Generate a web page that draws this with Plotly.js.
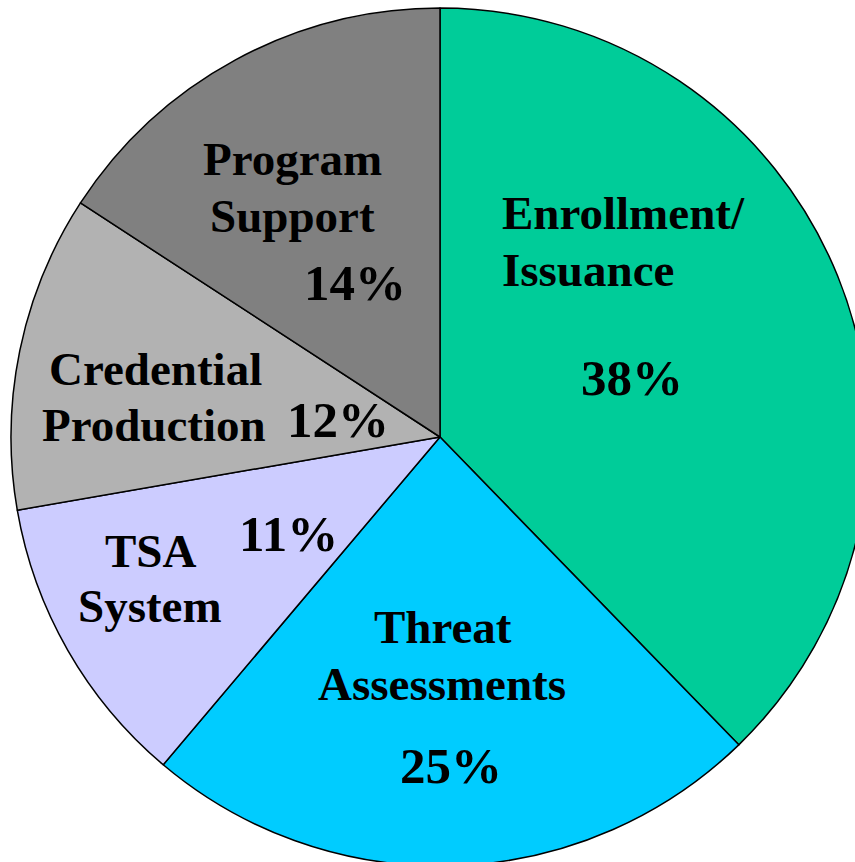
<!DOCTYPE html>
<html>
<head>
<meta charset="utf-8">
<script src="https://cdn.plot.ly/plotly-3.0.1.min.js"></script>
<style>
html, body { margin: 0; padding: 0; overflow: hidden; background: #fff; }
#chart { width: 880px; height: 874px; }
</style>
</head>
<body>
<div id="chart"></div>
<script>
// ---- data ----
var categories = ["Enrollment/Issuance", "Threat Assessments", "TSA System", "Credential Production", "Program Support"];
var values = [37.7, 23.4, 11.1, 11.9, 15.8];
var pctLabels = ["38%", "25%", "11%", "12%", "14%"];
var nameLines = [["Enrollment/", "Issuance"], ["Threat", "Assessments"], ["TSA", "System"], ["Credential", "Production"], ["Program", "Support"]];
var colors = ["#00CC99", "#00CCFF", "#CCCCFF", "#B2B2B2", "#808080"];

// ---- layout (pixel placement of labels) ----
var W = 880, H = 874;
var nameFont = 47, pctFont = 51;
// [ [line1 x, y, anchor], [line2 x, y, anchor], [pct x, y] ]
var labelPos = [
  [[501, 213, "left"], [501, 270, "left"], [632, 378]],
  [[442.5, 627, "center"], [441.5, 684, "center"], [451, 766]],
  [[150, 551, "center"], [150, 606, "center"], [288.5, 534]],
  [[155, 369, "center"], [154, 425, "center"], [338, 420]],
  [[292, 159, "center"], [292.5, 216, "center"], [354.5, 283]]
];

var fam = '"Liberation Serif", "Times New Roman", Times, serif';
var annotations = [];
function ann(text, x, y, anchor, size) {
  annotations.push({
    text: text, xref: "paper", yref: "paper",
    x: x / W, y: 1 - y / H, xanchor: anchor, yanchor: "middle",
    showarrow: false, borderpad: 0,
    font: { family: fam, size: size, color: "#000", weight: "bold" }
  });
}
for (var i = 0; i < categories.length; i++) {
  var p = labelPos[i];
  ann(nameLines[i][0], p[0][0], p[0][1], p[0][2], nameFont);
  ann(nameLines[i][1], p[1][0], p[1][1], p[1][2], nameFont);
  ann(pctLabels[i], p[2][0], p[2][1], "center", pctFont);
}

var trace = {
  type: "pie",
  labels: categories,
  values: values,
  sort: false,
  direction: "clockwise",
  rotation: 0,
  marker: { colors: colors, line: { color: "#000", width: 1.5 } },
  textinfo: "none",
  hoverinfo: "none",
  showlegend: false,
  domain: { x: [0, 1], y: [8 / H, 1 - 8 / H] }
};

var layout = {
  width: W, height: H,
  margin: { l: 0, r: 0, t: 0, b: 0 },
  paper_bgcolor: "#fff",
  showlegend: false,
  annotations: annotations
};

Plotly.newPlot("chart", [trace], layout, { displayModeBar: false, staticPlot: true });
</script>
</body>
</html>
